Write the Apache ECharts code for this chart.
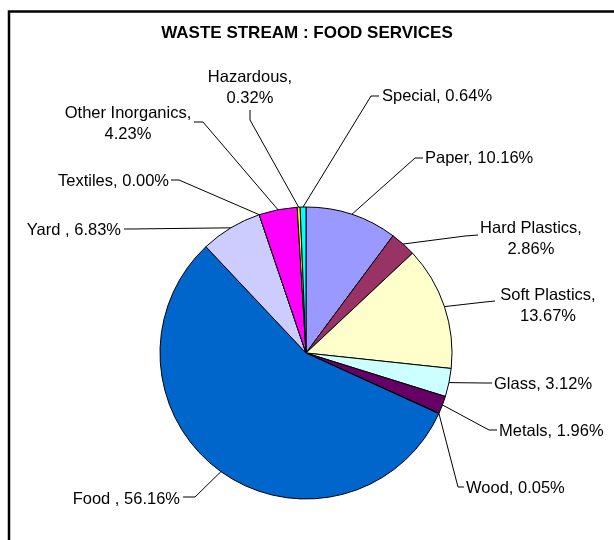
<!DOCTYPE html>
<html>
<head>
<meta charset="utf-8">
<script src="https://cdn.jsdelivr.net/npm/echarts@6/dist/echarts.min.js"></script>
<style>
  html, body { margin: 0; padding: 0; background: #fff; }
  #main { width: 614px; height: 540px; }
</style>
</head>
<body>
<div id="main"></div>
<script>
var categories = ['Paper', 'Hard Plastics', 'Soft Plastics', 'Glass', 'Metals', 'Wood', 'Food ', 'Yard ', 'Textiles', 'Other Inorganics', 'Hazardous', 'Special'];
var shares = [10.16, 2.86, 13.67, 3.12, 1.96, 0.05, 56.16, 6.83, 0.00, 4.23, 0.32, 0.64];
var colors = ['#9999ff', '#993366', '#ffffcc', '#ccffff', '#660066', '#ff8080', '#0066cc', '#ccccff', '#000080', '#ff00ff', '#ffff00', '#00ffff'];
var wrapped = ['Hard Plastics', 'Soft Plastics', 'Other Inorganics', 'Hazardous'];

// where each label sits, and the two points its leader line bends through
var labelSpots = {
  'Paper':            { x: 425, y: 158, align: 'left',   elbow: [415, 158], end: [423, 158] },
  'Hard Plastics':    { x: 531, y: 239, align: 'center', elbow: [465, 236], end: [478, 235] },
  'Soft Plastics':    { x: 548, y: 306, align: 'center', elbow: [485, 302], end: [495, 301] },
  'Glass':            { x: 494, y: 384, align: 'left',   elbow: [485, 383], end: [492, 383] },
  'Metals':           { x: 499, y: 431, align: 'left',   elbow: [489, 430], end: [497, 430] },
  'Wood':             { x: 466, y: 488, align: 'left',   elbow: [458, 487], end: [464, 487] },
  'Food ':            { x: 180, y: 499, align: 'right',  elbow: [195, 497], end: [183, 497] },
  'Yard ':            { x: 121, y: 230, align: 'right',  elbow: [131, 229], end: [124, 229] },
  'Textiles':         { x: 169, y: 181, align: 'right',  elbow: [179, 180], end: [171, 180] },
  'Other Inorganics': { x: 128, y: 124, align: 'center', elbow: [203, 122], end: [194, 122] },
  'Hazardous':        { x: 250, y: 88,  align: 'center', elbow: [250, 120], end: [250, 110] },
  'Special':          { x: 382, y: 96,  align: 'left',   elbow: [371, 96],  end: [379, 96] }
};

var font = 'Liberation Sans, Arial, sans-serif';

var pieData = categories.map(function (name, i) {
  return { name: name, value: shares[i], itemStyle: { color: colors[i] } };
});

var chart = echarts.init(document.getElementById('main'));
chart.setOption({
  backgroundColor: '#fff',
  animation: false,
  title: {
    text: 'WASTE STREAM : FOOD SERVICES',
    left: 'center',
    top: 20,
    textStyle: { fontFamily: font, fontSize: 17, fontWeight: 'bold', color: '#000' }
  },
  graphic: [
    {
      type: 'rect',
      silent: true,
      shape: { x: 9, y: 11.5, width: 700, height: 700 },
      style: { fill: 'none', stroke: '#000', lineWidth: 2.5 }
    }
  ],
  series: [
    {
      type: 'pie',
      center: [306, 353],
      radius: 146,
      startAngle: 90,
      clockwise: true,
      avoidLabelOverlap: false,
      emphasis: { disabled: true },
      itemStyle: { borderColor: '#000', borderWidth: 1 },
      label: {
        show: true,
        position: 'outside',
        fontFamily: font,
        fontSize: 16.5,
        lineHeight: 21,
        color: '#000',
        formatter: function (p) {
          var sep = wrapped.indexOf(p.name) >= 0 ? ',\n' : ', ';
          return p.name + sep + p.value.toFixed(2) + '%';
        }
      },
      labelLine: {
        show: true,
        smooth: false,
        lineStyle: { color: '#000', width: 1 }
      },
      labelLayout: function (params) {
        var spot = labelSpots[categories[params.dataIndex]];
        var pts = params.labelLinePoints;
        var out = { x: spot.x, y: spot.y, align: spot.align, verticalAlign: 'middle' };
        if (pts) {
          out.labelLinePoints = [pts[0], spot.elbow, spot.end];
        }
        return out;
      },
      data: pieData
    }
  ]
});
</script>
</body>
</html>
